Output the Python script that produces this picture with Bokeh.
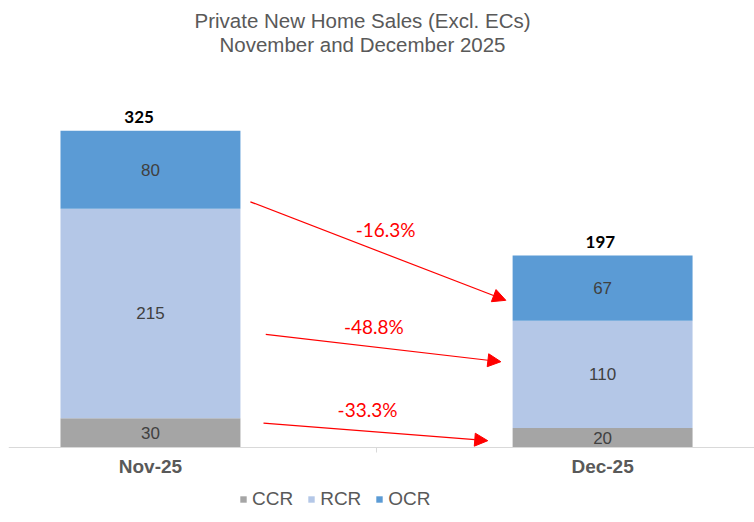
import math
import numpy as np
from bokeh.plotting import figure
from bokeh.models import (ColumnDataSource, Range1d, FixedTicker, Label, Arrow,
                          NormalHead, Legend)
from bokeh.core.properties import value
from bokeh.embed import file_html
from bokeh.resources import INLINE

# ---- data ----
months = ["Nov-25", "Dec-25"]
segments = ["CCR", "RCR", "OCR"]
ccr = [30, 20]
rcr = [215, 110]
ocr = [80, 67]
colors = ["#a5a5a5", "#b4c7e7", "#5b9bd5"]

title_lines = ["Private New Home Sales (Excl. ECs)", "November and December 2025"]

# arrow anchors (data units): start Nov side, end Dec side
arrow_x_start = [0.221, 0.255, 0.250]
arrow_y_start = [252, 116, 25]
arrow_x_end = [0.786, 0.775, 0.746]
arrow_y_end = [151, 88, 7]
pct_label_x = [0.520, 0.494, 0.480]
pct_label_y = [224, 124, 39]

xpos = [0, 1]
source = ColumnDataSource(dict(x=xpos, CCR=ccr, RCR=rcr, OCR=ocr))

p = figure(width=754, height=522, output_backend="svg",
           toolbar_location=None, x_range=Range1d(-0.314, 1.336),
           y_range=Range1d(-76.9, 450.3), min_border=0,
           min_border_top=8, min_border_left=8)
p.outline_line_color = None
p.grid.visible = False
p.yaxis.visible = False
p.background_fill_color = "white"
p.border_fill_color = "white"

renderers = p.vbar_stack(segments, x="x", width=0.398, color=colors,
                         source=source, line_color=None)

# x axis, pinned at value 0
ax = p.xaxis[0]
ax.fixed_location = 0
ax.ticker = FixedTicker(ticks=xpos, minor_ticks=[0.5])
ax.major_label_overrides = {0: months[0], 1: months[1]}
ax.axis_line_color = "#d9d9d9"
ax.major_tick_line_color = None
ax.minor_tick_line_color = "#d9d9d9"
ax.minor_tick_out = 5
ax.minor_tick_in = 0
ax.major_tick_out = 0
ax.major_label_standoff = 3
ax.major_label_text_font = "Liberation Sans"
ax.major_label_text_font_style = "bold"
ax.major_label_text_font_size = "19px"
ax.major_label_text_color = "#595959"

# segment labels
vals = np.array([ccr, rcr, ocr], dtype=float)
cum = np.cumsum(vals, axis=0)
mids = cum - vals / 2
lx, ly, lt = [], [], []
for i in range(len(segments)):
    for j in range(len(months)):
        lx.append(xpos[j]); ly.append(mids[i, j]); lt.append(str(int(vals[i, j])))
p.text(x=lx, y=ly, text=lt, text_align="center", text_baseline="middle",
       text_font=value("Liberation Sans"), text_font_size="17px", text_color="#404040")

# totals
totals = cum[-1]
p.text(x=[xpos[0] - 0.025, xpos[1] - 0.005], y=list(totals + 14), text=[str(int(t)) for t in totals],
       text_align="center", text_baseline="middle", text_font=value("Lato"),
       text_font_style="bold", text_font_size="17px", text_color="#000000")

# percent changes (round half away from zero, like Excel)
def fmt_pct(a, b):
    v = (b - a) / a * 100
    r = math.copysign(math.floor(abs(v) * 10 + 0.5 + 1e-9) / 10, v)
    return f"{r:.1f}%"

pct_text = [fmt_pct(vals[i, 0], vals[i, 1]) for i in (2, 1, 0)]
p.text(x=pct_label_x, y=pct_label_y, text=pct_text,
       text_align="center", text_baseline="middle", text_font=value("Lato"),
       text_font_size="19px", text_color="#ff0000")

arr_src = ColumnDataSource(dict(x0=arrow_x_start, y0=arrow_y_start,
                                x1=arrow_x_end, y1=arrow_y_end))
p.add_layout(Arrow(end=NormalHead(size=13, fill_color="#ff0000", line_color="#ff0000"),
                   x_start="x0", y_start="y0", x_end="x1", y_end="y1",
                   line_color="#ff0000", line_width=1.2, source=arr_src))

# title
for txt, yy in zip(title_lines, [438, 413.3]):
    p.add_layout(Label(x=0.469, y=yy, text=txt, text_align="center",
                       text_baseline="middle", text_font="Liberation Sans",
                       text_font_size="20.5px", text_color="#595959"))

legend = Legend(items=[(s, [r]) for s, r in zip(segments, renderers)],
                orientation="horizontal", location=(231, 12),
                glyph_width=8, glyph_height=8, label_standoff=5, spacing=14,
                label_text_font="Liberation Sans", label_text_font_size="19px",
                label_text_color="#595959", border_line_color=None,
                background_fill_alpha=0, margin=0, padding=4)
p.add_layout(legend)

open("out.html", "w").write(file_html(p, INLINE))
